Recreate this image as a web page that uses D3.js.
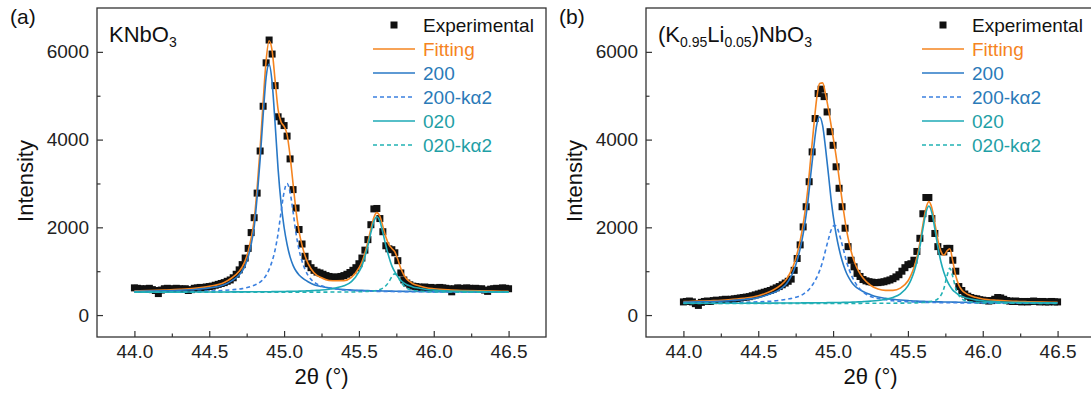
<!DOCTYPE html>
<html>
<head>
<meta charset="utf-8">
<script src="https://cdn.jsdelivr.net/npm/d3@7"></script>
<style>
  body { margin: 0; background: #fff; }
  svg { display: block; }
  text { font-family: "Liberation Sans", Arial, sans-serif; }
</style>
</head>
<body>
<svg id="chart" width="1091" height="396"></svg>
<script>
// ---- scan angles (2θ, degrees) of the measured points, shared by both samples ----
const scanAngles = [
  44.00,44.02,44.04,44.06,44.08,44.10,44.12,44.14,44.16,44.18,
  44.20,44.22,44.24,44.26,44.28,44.30,44.32,44.34,44.36,44.38,
  44.40,44.42,44.44,44.46,44.48,44.50,44.52,44.54,44.56,44.58,
  44.60,44.62,44.64,44.66,44.68,44.70,44.72,44.74,44.76,44.78,
  44.80,44.82,44.84,44.86,44.88,44.90,44.92,44.94,44.96,44.98,
  45.00,45.02,45.04,45.06,45.08,45.10,45.12,45.14,45.16,45.18,
  45.20,45.22,45.24,45.26,45.28,45.30,45.32,45.34,45.36,45.38,
  45.40,45.42,45.44,45.46,45.48,45.50,45.52,45.54,45.56,45.58,
  45.60,45.62,45.64,45.66,45.68,45.70,45.72,45.74,45.76,45.78,
  45.80,45.82,45.84,45.86,45.88,45.90,45.92,45.94,45.96,45.98,
  46.00,46.02,46.04,46.06,46.08,46.10,46.12,46.14,46.16,46.18,
  46.20,46.22,46.24,46.26,46.28,46.30,46.32,46.34,46.36,46.38,
  46.40,46.42,46.44,46.46,46.48,46.50
];

// ---- (a) KNbO3 ----
const knbExperimental = [
  620,610,600,590,600,610,580,560,490,570,
  600,610,600,590,610,600,590,600,560,580,
  610,620,630,620,640,650,660,680,700,720,
  740,770,800,850,930,1030,1150,1300,1520,1880,
  2220,2780,3740,4760,5750,6270,5950,5230,4520,4420,
  4320,4080,3560,2860,2440,1950,1620,1340,1170,1080,
  1020,980,960,930,900,880,860,870,860,880,
  900,930,970,1020,1080,1170,1300,1480,1720,2060,
  2420,2430,2200,1900,1580,1510,1490,1420,1240,960,
  800,730,690,660,650,640,630,640,620,630,
  620,610,630,620,610,600,530,600,620,610,
  600,620,610,600,610,590,600,570,540,590,
  600,610,600,620,610,600
];
const knbCurveAngles = [
  44.00,44.10,44.20,44.30,44.40,44.50,44.60,44.65,
  44.70,44.72,44.74,44.76,44.78,44.80,44.82,44.84,44.86,44.88,44.90,44.92,
  44.94,44.96,44.98,45.00,45.02,45.04,45.06,45.08,45.10,45.12,45.14,45.16,
  45.20,45.25,45.30,45.35,45.40,45.45,45.50,
  45.52,45.54,45.56,45.58,45.60,45.62,45.64,45.66,45.68,45.70,45.72,45.74,
  45.76,45.78,45.80,45.82,45.84,45.86,
  45.90,45.95,46.00,46.10,46.20,46.30,46.40,46.50
];
const knbFitting = [
  553,560,571,585,608,654,743,845,
  997,1096,1241,1451,1757,2172,2900,3800,4850,5800,6254,6026,
  5350,4683,4400,4302,4114,3631,2993,2368,1910,1589,1354,1178,
  966,849,789,783,786,861,1073,
  1207,1411,1670,1965,2226,2335,2250,2022,1779,1606,1518,1443,
  1267,1063,917,819,760,714,
  669,623,600,574,560,551,545,541
];
const knb200 = [
  541,546,554,564,582,619,692,780,
  915,1004,1134,1326,1612,2002,2700,3550,4550,5420,5720,5304,
  4368,3328,2548,2002,1612,1326,1134,1004,915,853,801,759,
  692,650,619,598,582,572,564,
  562,560,558,556,554,552,551,549,548,546,545,544,
  543,542,541,540,540,539,
  537,536,534,532,530,529,528,527
];
const knb200Ka2 = [
  528,530,532,535,540,548,563,576,
  592,602,617,634,654,679,708,751,813,904,1041,1227,
  1487,1859,2355,2802,3000,2802,2355,1859,1487,1227,1041,904,
  751,666,617,597,572,561,554,
  550,548,546,544,543,541,540,539,538,537,536,535,
  535,534,534,532,532,531,
  531,530,529,527,526,525,524,524
];
const knb020 = [
  523,523,524,524,525,526,527,528,
  529,529,529,530,530,530,531,531,531,532,532,534,
  534,535,536,537,540,541,542,543,546,547,550,552,
  560,570,589,623,666,761,984,
  1122,1328,1586,1879,2137,2240,2137,1879,1586,1328,1122,984,
  874,792,735,692,666,642,
  615,584,568,550,541,535,531,529
];
const knb020Ka2 = [
  521,521,521,521,521,521,521,521,
  521,521,521,521,521,521,521,521,521,521,521,521,
  521,521,521,521,522,522,522,522,522,522,522,523,
  523,523,524,525,526,527,531,
  533,535,540,546,552,562,582,615,667,755,875,940,
  875,755,667,615,582,562,
  546,533,529,525,523,522,522,521
];

// ---- (b) (K0.95Li0.05)NbO3 ----
const kln5Experimental = [
  300,310,320,300,260,220,290,310,320,310,
  330,340,330,350,360,350,360,370,380,390,
  400,410,420,440,460,480,500,520,540,560,
  590,620,650,690,730,770,820,1020,1290,1600,
  2010,2470,3040,3720,4480,5050,5150,4980,4630,4180,
  3870,3380,2890,2470,1980,1560,1250,1100,950,880,
  810,780,760,750,740,740,750,760,780,800,
  830,870,920,1000,1080,1150,1170,1250,1450,1750,
  2310,2680,2680,2200,1860,1560,1450,1440,1520,1520,
  1250,1000,650,560,480,430,400,380,370,350,
  340,330,320,330,360,400,390,360,330,320,
  310,320,310,300,310,300,310,320,310,300,
  310,300,300,310,300,300
];
const kln5CurveAngles = [
  44.00,44.10,44.20,44.30,44.40,44.50,44.55,44.60,44.65,
  44.69,44.71,44.73,44.75,44.77,44.79,44.81,44.83,44.85,44.87,44.89,44.91,
  44.93,44.95,44.97,44.99,45.01,45.03,45.05,45.07,45.09,45.11,45.13,45.15,45.17,
  45.20,45.25,45.30,45.35,45.40,45.45,45.50,
  45.52,45.54,45.56,45.58,45.60,45.62,45.64,45.66,45.68,45.70,
  45.72,45.74,45.76,45.78,45.80,45.82,45.84,45.86,45.88,45.90,
  45.95,46.00,46.10,46.20,46.30,46.40,46.50
];
const kln5Fitting = [
  308,317,330,350,383,441,497,571,682,
  824,944,1086,1286,1541,1870,2297,2839,3554,4269,4924,5280,
  5292,5030,4672,4259,3851,3391,2871,2381,1934,1604,1340,1146,1000,
  843,680,594,563,563,615,777,
  904,1078,1318,1648,2057,2426,2586,2440,2089,1715,
  1458,1363,1456,1513,1223,889,684,573,509,468,
  405,368,336,316,305,297,292
];
const kln5200 = [
  294,300,310,325,351,397,444,507,597,
  720,826,954,1136,1370,1668,2050,2539,3176,3793,4324,4515,
  4324,3793,3176,2539,2050,1668,1370,1136,954,826,720,648,597,
  537,465,410,380,359,342,329,
  325,322,318,315,312,310,307,305,303,301,
  300,299,298,297,296,294,293,292,291,290,
  288,285,282,280,278,276,275
];
const kln5200Ka2 = [
  275,277,280,284,290,301,309,320,340,
  359,372,386,404,425,455,500,553,630,728,852,1013,
  1217,1484,1742,1965,2045,1965,1742,1484,1217,1013,852,728,630,
  527,425,379,349,326,313,304,
  301,299,296,293,292,290,289,287,286,285,
  284,283,282,281,280,280,279,278,278,277,
  276,275,274,272,271,270,270
];
const kln5020 = [
  268,269,269,270,271,272,272,273,274,
  275,275,275,276,276,277,277,278,278,279,280,281,
  282,282,283,284,285,286,287,289,291,293,295,297,300,
  306,317,332,360,403,483,665,
  798,975,1220,1553,1963,2330,2485,2330,1963,1553,
  1220,975,798,665,569,509,458,427,403,383,
  347,323,302,290,283,279,276
];
const kln5020Ka2 = [
  265,265,265,265,265,265,265,265,266,
  266,266,266,266,266,266,266,266,266,266,266,266,
  266,266,266,266,266,266,266,266,266,266,266,266,266,
  268,268,268,269,270,272,274,
  275,277,279,282,285,291,300,313,332,371,
  449,601,873,1065,873,601,449,371,332,313,
  289,280,273,269,268,267,266
];

// ---- axes ----
const xTicks = [44.0, 44.5, 45.0, 45.5, 46.0, 46.5];
const xTickLabels = ["44.0", "44.5", "45.0", "45.5", "46.0", "46.5"];
const xMinorTicks = [44.25, 44.75, 45.25, 45.75, 46.25];
const yTicks = [0, 2000, 4000, 6000];
const yTickLabels = ["0", "2000", "4000", "6000"];
const yMinorTicks = [1000, 3000, 5000];

// ---- legend ----
const legendLabels = ["Experimental", "Fitting", "200", "200-k\u03b12", "020", "020-k\u03b12"];

// ---- drawing ----
const COLORS = {
  exp: "#111111",
  fit: "#f5841f",
  p200: "#2878c6",
  p200k: "#3b80e0",
  p020: "#1eaab6",
  p020k: "#22b2b4"
};
const TEXT_COLORS = ["#111111", "#f5841f", "#2a7ab8", "#2a7ab8", "#1f9fa6", "#1f9fa6"];

const panels = [
  {
    tag: "(a)", left: 97, sample: [["KNbO", false], ["3", true]],
    exp: knbExperimental, grid: knbCurveAngles,
    fit: knbFitting, p200: knb200, p200k: knb200Ka2, p020: knb020, p020k: knb020Ka2
  },
  {
    tag: "(b)", left: 646,
    sample: [["(K", false], ["0.95", true], ["Li", false], ["0.05", true], [")NbO", false], ["3", true]],
    exp: kln5Experimental, grid: kln5CurveAngles,
    fit: kln5Fitting, p200: kln5200, p200k: kln5200Ka2, p020: kln5020, p020k: kln5020Ka2
  }
];

const svg = d3.select("#chart");
const frameTop = 8, frameBottom = 337, frameWidth = 449;
const y = d3.scaleLinear().domain([-500, 7000]).range([frameBottom, frameTop]);
const FONT = "'Liberation Sans', Arial, sans-serif";

function styleAxis(g) {
  g.select(".domain").remove();
  g.selectAll(".tick line").attr("stroke", "#333").attr("stroke-width", 1.2);
  g.selectAll(".tick text").attr("fill", "#222").attr("font-size", 19).attr("font-family", FONT);
}

panels.forEach(p => {
  const x = d3.scaleLinear().domain([43.75, 46.75]).range([p.left, p.left + frameWidth]);
  const g = svg.append("g");

  // axes with inward ticks
  g.append("g").attr("transform", `translate(0,${frameBottom})`)
    .call(d3.axisBottom(x).tickValues(xMinorTicks).tickSize(-3.5).tickFormat(""))
    .call(styleAxis);
  g.append("g").attr("transform", `translate(0,${frameBottom})`)
    .call(d3.axisBottom(x).tickValues(xTicks).tickSize(-6).tickPadding(8)
      .tickFormat((d, i) => xTickLabels[i]))
    .call(styleAxis);
  g.append("g").attr("transform", `translate(${p.left},0)`)
    .call(d3.axisLeft(y).tickValues(yMinorTicks).tickSize(-3.5).tickFormat(""))
    .call(styleAxis);
  g.append("g").attr("transform", `translate(${p.left},0)`)
    .call(d3.axisLeft(y).tickValues(yTicks).tickSize(-6).tickPadding(8)
      .tickFormat((d, i) => yTickLabels[i]))
    .call(styleAxis);

  // frame
  g.append("rect")
    .attr("x", p.left).attr("y", frameTop)
    .attr("width", frameWidth).attr("height", frameBottom - frameTop)
    .attr("fill", "none").attr("stroke", "#333").attr("stroke-width", 1.3);

  // measured points
  g.append("g").selectAll("rect")
    .data(p.exp.map((v, i) => [scanAngles[i], v]))
    .join("rect")
    .attr("x", d => x(d[0]) - 3.5).attr("y", d => y(d[1]) - 3.5)
    .attr("width", 7).attr("height", 7)
    .attr("fill", COLORS.exp);

  // fitted profile and its components
  const line = d3.line().x(d => x(d[0])).y(d => y(d[1])).curve(d3.curveMonotoneX);
  const series = [
    { key: "fit", dash: null },
    { key: "p200", dash: null },
    { key: "p200k", dash: "4,3" },
    { key: "p020", dash: null },
    { key: "p020k", dash: "4,3" }
  ];
  series.forEach(s => {
    g.append("path")
      .datum(p[s.key].map((v, i) => [p.grid[i], v]))
      .attr("d", line)
      .attr("fill", "none")
      .attr("stroke", COLORS[s.key])
      .attr("stroke-width", 1.6)
      .attr("stroke-dasharray", s.dash);
  });

  // legend
  const lx = p.left + 276;
  const lg = g.append("g");
  const legendKeys = ["exp", "fit", "p200", "p200k", "p020", "p020k"];
  legendLabels.forEach((lab, i) => {
    const base = 32 + 24 * i;
    const cy = base - 7;
    if (i === 0) {
      lg.append("rect").attr("x", lx + 21 - 3.5).attr("y", cy - 3.5)
        .attr("width", 7).attr("height", 7).attr("fill", COLORS.exp);
    } else {
      lg.append("line").attr("x1", lx).attr("x2", lx + 42).attr("y1", cy).attr("y2", cy)
        .attr("stroke", COLORS[legendKeys[i]]).attr("stroke-width", 1.6)
        .attr("stroke-dasharray", (i === 3 || i === 5) ? "4,3" : null);
    }
    lg.append("text").attr("x", lx + 50).attr("y", base)
      .attr("font-size", 19).attr("fill", TEXT_COLORS[i]).text(lab);
  });

  // sample name with subscripts
  const t = g.append("text").attr("x", p.left + 12).attr("y", 42)
    .attr("font-size", 22).attr("fill", "#111");
  let sub = false;
  p.sample.forEach(([str, isSub]) => {
    const ts = t.append("tspan").text(str);
    if (isSub) {
      ts.attr("font-size", 14).attr("dy", sub ? 0 : 5);
    } else if (sub) {
      ts.attr("dy", -5);
    }
    sub = isSub;
  });

  // panel tag
  g.append("text").attr("x", p.left - 87).attr("y", 24)
    .attr("font-size", 21).attr("fill", "#111").text(p.tag);

  // axis titles
  g.append("text")
    .attr("transform", `translate(${p.left - 64},181) rotate(-90)`)
    .attr("text-anchor", "middle").attr("font-size", 22).attr("fill", "#111")
    .text("Intensity");
  g.append("text")
    .attr("x", p.left + frameWidth / 2).attr("y", 384)
    .attr("text-anchor", "middle").attr("font-size", 22).attr("fill", "#111")
    .text("2\u03b8 (\u00b0)");
});
</script>
</body>
</html>
